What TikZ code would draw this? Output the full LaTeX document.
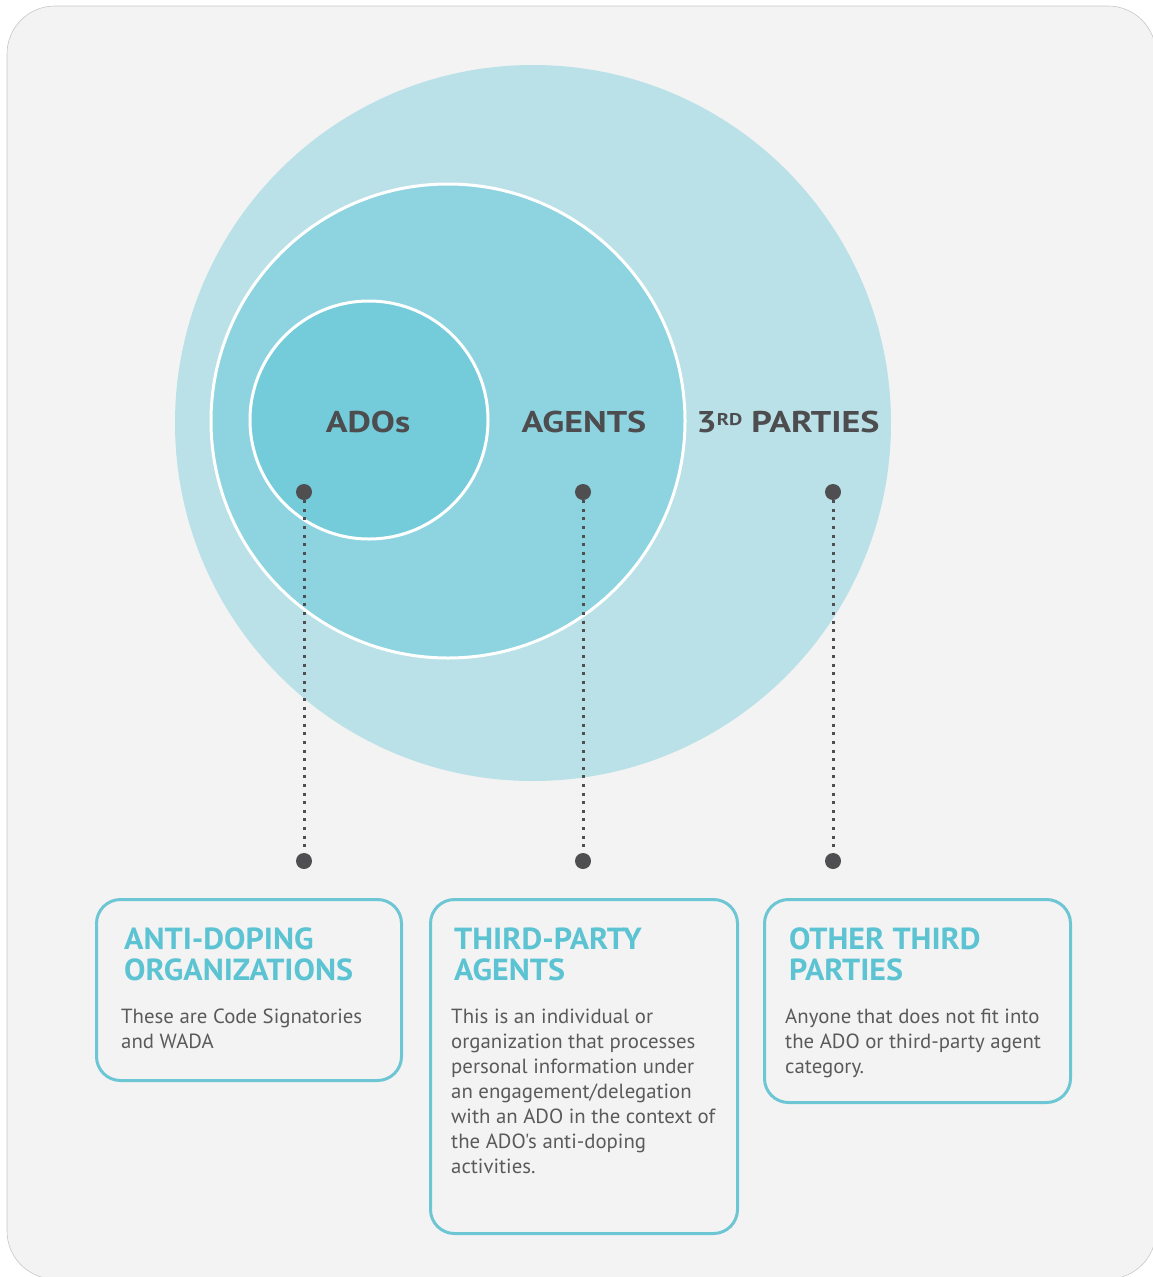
\documentclass[tikz,border=0pt]{standalone}
\usepackage{fontspec}
\setmainfont{PT Sans}
\newfontfamily\ringface[FakeStretch=1.2]{PT Sans}
\newfontfamily\headface[FakeStretch=1.05]{PT Sans}
\newfontfamily\bodyface[FakeStretch=1.015]{PT Sans}
\usetikzlibrary{positioning}
\definecolor{panel}{HTML}{F3F3F3}
\definecolor{ringout}{HTML}{BAE1E7}
\definecolor{ringmid}{HTML}{8ED4E0}
\definecolor{ringin}{HTML}{74CBDA}
\definecolor{labelgray}{HTML}{4D4D4F}
\definecolor{bodygray}{HTML}{5A5A5C}
\definecolor{teal}{HTML}{5CC3D3}
\definecolor{boxline}{HTML}{6DC6D4}
\definecolor{dotgray}{HTML}{4F4F51}
\tikzset{
	ringlabel/.style={text=labelgray, font=\ringface\bfseries\fontsize{30}{30}\selectfont, inner sep=0pt},
	pin/.style={circle, fill=dotgray, inner sep=0pt, minimum size=16pt},
	dotline/.style={dotgray, line width=3pt, dash pattern=on 3pt off 5.6pt},
	infobox/.style={draw=boxline, line width=3pt, rounded corners=24pt, anchor=north west, inner sep=0pt},
	boxhead/.style={text=teal, font=\headface\bfseries\fontsize{30.5}{31}\selectfont, align=left, inner sep=0pt, anchor=north west},
	boxbody/.style={text=bodygray, font=\bodyface\fontsize{20.5}{25}\selectfont, align=left, inner sep=0pt, anchor=north west}
}

\begin{document}
\begin{tikzpicture}[x=1pt, y=-1pt]
		%%%%% START %%%%%
		\useasboundingbox (0, 0) rectangle (1153, 1277);
		
		\draw[fill=panel, draw=black!22, line width=0.6pt, rounded corners=48pt] (7, 6) rectangle (1156, 1279);
		
		% nested rings
		\fill[ringout] (533, 423) circle (358pt);
		\draw[fill=ringmid, draw=white, line width=3pt] (448, 421) circle (237pt);
		\draw[fill=ringin, draw=white, line width=3pt] (369, 420) circle (119pt);
		
		\node[ringlabel] (ados) at (368, 422) {ADOs};
		\node[ringlabel] (agents) at (584, 422) {AGENTS};
		\node[ringlabel] (parties) at (788, 422) {3\raisebox{7pt}{\fontsize{17}{17}\selectfont RD} PARTIES};
		
		% pins and dotted leaders
		\node[pin] (adotop) at (304, 492) {};
		\node[pin] (adobot) at (304, 861) {};
		\node[pin] (agenttop) at (583, 492) {};
		\node[pin] (agentbot) at (583, 861) {};
		\node[pin] (partytop) at (833, 492) {};
		\node[pin] (partybot) at (833, 861) {};
		\draw[dotline] (adotop) -- (adobot);
		\draw[dotline] (agenttop) -- (agentbot);
		\draw[dotline] (partytop) -- (partybot);
		
		% boxes
		\node[infobox, minimum width=305pt, minimum height=181pt] (adobox) at (95, 898) {};
		\node[infobox, minimum width=307pt, minimum height=334pt] (agentbox) at (429, 898) {};
		\node[infobox, minimum width=306pt, minimum height=203pt] (partybox) at (763, 898) {};
		
		\node[boxhead, below right=30pt and 29pt of adobox.north west] (adohead) {ANTI-DOPING\\ORGANIZATIONS};
		\node[boxbody, below right=27pt and -3pt of adohead.south west] (adotext) {These are Code Signatories\\and WADA};
		
		\node[boxhead, below right=30pt and 25pt of agentbox.north west] (agenthead) {THIRD-PARTY\\AGENTS};
		\node[boxbody, below right=27pt and -3pt of agenthead.south west] (agenttext) {This is an individual or\\organization that processes\\personal information under\\an engagement/delegation\\with an ADO in the context of\\the ADO's anti-doping\\activities.};
		
		\node[boxhead, below right=30pt and 26pt of partybox.north west] (partyhead) {OTHER THIRD\\PARTIES};
		\node[boxbody, below right=27pt and -4pt of partyhead.south west] (partytext) {Anyone that does not fit into\\the ADO or third-party agent\\category.};
		
		%%%%% END %%%%%
	\end{tikzpicture}
\end{document}
